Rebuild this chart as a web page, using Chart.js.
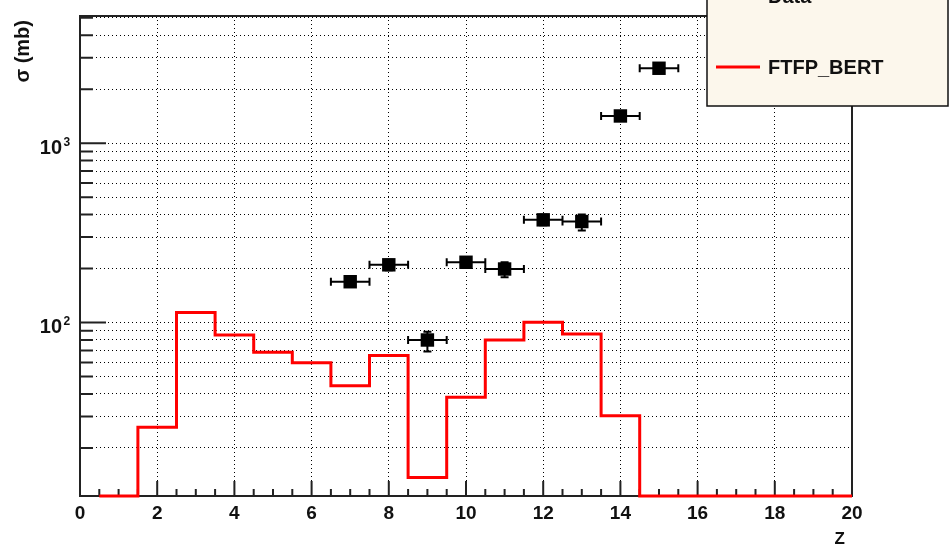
<!DOCTYPE html>
<html>
<head>
<meta charset="utf-8">
<script src="https://cdn.jsdelivr.net/npm/chart.js@4.4.1/dist/chart.umd.min.js"></script>
<style>
  html, body { margin: 0; padding: 0; background: #fff; }
  canvas { display: block; }
</style>
</head>
<body>
<canvas id="chart" width="951" height="556"></canvas>
<script>
// ── measured points (Z, sigma in mb) ──
const dataZ = [7, 8, 9, 10, 11, 12, 13, 14, 15];
const dataSigma = [169, 210, 80, 217, 199, 374, 366, 1419, 2618];
const dataErrLo = [10, 14, 11, 15, 20, 25, 40, 80, 150];
const dataErrHi = [10, 14, 9, 15, 18, 25, 35, 80, 150];
const dataErrZ = [0.5, 0.5, 0.5, 0.5, 0.5, 0.5, 0.5, 0.5, 0.5];

// ── FTFP_BERT histogram, bins of width 1 starting at 0.5 ──
const binLow = [0.5, 1.5, 2.5, 3.5, 4.5, 5.5, 6.5, 7.5, 8.5, 9.5,
                10.5, 11.5, 12.5, 13.5, 14.5, 15.5, 16.5, 17.5, 18.5, 19.5];
const ftfpBert = [0, 26.1, 114, 85.4, 68.4, 59.8, 44.5, 65.5, 13.7, 38.4,
                  80, 100.5, 86.5, 30.3, 0, 0, 0, 0, 0, 0];

// ── axes ──
const xTickVals = [0, 2, 4, 6, 8, 10, 12, 14, 16, 18, 20];
const xTickLabels = ['0', '2', '4', '6', '8', '10', '12', '14', '16', '18', '20'];
const yGridVals = [20, 30, 40, 50, 60, 70, 80, 90, 100, 200, 300, 400, 500, 600, 700, 800, 900, 1000, 2000, 3000, 4000, 5000];
const yLabelVals = [100, 1000];
const yLabelExp = ['2', '3'];
const Y_MIN = 10.8, Y_MAX = 5120;

const FONT = '"Liberation Sans", Arial, Helvetica, sans-serif';

// empty bins sit on the frame bottom, like ROOT does on a log axis
const histPoints = binLow.map((x, i) => ({ x, y: Math.max(ftfpBert[i], Y_MIN) }));
histPoints.push({ x: 20, y: Math.max(ftfpBert[ftfpBert.length - 1], Y_MIN) });

const dataPoints = dataZ.map((z, i) => ({ x: z, y: dataSigma[i] }));

const frameTicks = {
  id: 'frameTicks',
  beforeDatasetsDraw(chart) {
    const { ctx, chartArea: a, scales: { x, y } } = chart;
    ctx.save();
    ctx.strokeStyle = '#222';
    ctx.lineWidth = 2;
    ctx.strokeRect(a.left, a.top, a.right - a.left, a.bottom - a.top);
    ctx.beginPath();
    for (let v = 0; v <= 20; v += 0.5) {
      const px = x.getPixelForValue(v);
      const len = v % 2 === 0 ? 15 : 7;
      ctx.moveTo(px, a.bottom);
      ctx.lineTo(px, a.bottom - len);
    }
    yGridVals.forEach(v => {
      const py = y.getPixelForValue(v);
      const len = yLabelVals.includes(v) ? 26 : 13;
      ctx.moveTo(a.left, py);
      ctx.lineTo(a.left + len, py);
    });
    ctx.stroke();

    // y labels as 10^n, ROOT style
    ctx.fillStyle = '#111';
    ctx.textBaseline = 'alphabetic';
    yLabelVals.forEach((v, i) => {
      const py = y.getPixelForValue(v);
      ctx.font = 'bold 20px ' + FONT;
      ctx.textAlign = 'right';
      ctx.fillText('10', 62, py + 10.5);
      ctx.font = 'bold 12px ' + FONT;
      ctx.textAlign = 'left';
      ctx.fillText(yLabelExp[i], 63.5, py + 2.5);
    });
    ctx.restore();
  }
};

const errorBars = {
  id: 'errorBars',
  beforeDatasetsDraw(chart) {
    const { ctx, scales: { x, y } } = chart;
    ctx.save();
    ctx.strokeStyle = '#000';
    ctx.lineWidth = 2;
    ctx.beginPath();
    dataZ.forEach((z, i) => {
      const px = x.getPixelForValue(z);
      const py = y.getPixelForValue(dataSigma[i]);
      const x0 = x.getPixelForValue(z - dataErrZ[i]);
      const x1 = x.getPixelForValue(z + dataErrZ[i]);
      const y0 = y.getPixelForValue(dataSigma[i] - dataErrLo[i]);
      const y1 = y.getPixelForValue(dataSigma[i] + dataErrHi[i]);
      ctx.moveTo(x0, py); ctx.lineTo(x1, py);
      ctx.moveTo(x0, py - 4); ctx.lineTo(x0, py + 4);
      ctx.moveTo(x1, py - 4); ctx.lineTo(x1, py + 4);
      ctx.moveTo(px, y0); ctx.lineTo(px, y1);
      ctx.moveTo(px - 4, y0); ctx.lineTo(px + 4, y0);
      ctx.moveTo(px - 4, y1); ctx.lineTo(px + 4, y1);
    });
    ctx.stroke();
    ctx.restore();
  }
};

const legendAndTitles = {
  id: 'legendAndTitles',
  afterDraw(chart) {
    const { ctx } = chart;
    ctx.save();
    // axis titles
    ctx.fillStyle = '#111';
    ctx.font = 'bold 20px ' + FONT;
    ctx.textBaseline = 'alphabetic';
    ctx.save();
    ctx.translate(29, 20);
    ctx.rotate(-Math.PI / 2);
    ctx.textAlign = 'right';
    ctx.fillText('\u03c3 (mb)', 0, 0);
    ctx.restore();
    ctx.textAlign = 'right';
    ctx.font = 'bold 17px ' + FONT;
    ctx.fillText('Z', 845, 544);

    // legend box
    ctx.fillStyle = '#fcf7ec';
    ctx.fillRect(707, -40, 241, 146);
    ctx.strokeStyle = '#111';
    ctx.lineWidth = 1.5;
    ctx.strokeRect(707, -40, 241, 146);

    ctx.fillStyle = '#000';
    ctx.fillRect(732, -13, 12, 13);

    ctx.strokeStyle = '#ff0000';
    ctx.lineWidth = 3;
    ctx.beginPath();
    ctx.moveTo(716, 67);
    ctx.lineTo(760, 67);
    ctx.stroke();

    ctx.fillStyle = '#111';
    ctx.textAlign = 'left';
    ctx.font = 'bold 20px ' + FONT;
    ctx.fillText('Data', 768, 2.5);
    ctx.fillText('FTFP_BERT', 768, 74);
    ctx.restore();
  }
};

new Chart(document.getElementById('chart'), {
  type: 'scatter',
  data: {
    datasets: [
      {
        type: 'line',
        label: 'FTFP_BERT',
        data: histPoints,
        stepped: true,
        borderColor: '#ff0000',
        borderWidth: 3,
        pointRadius: 0,
        fill: false,
        clip: 3,
      },
      {
        type: 'scatter',
        label: 'Data',
        data: dataPoints,
        pointStyle: 'rect',
        pointRadius: 9.5,
        backgroundColor: '#000',
        borderColor: '#000',
        borderWidth: 0,
      },
    ],
  },
  options: {
    responsive: false,
    animation: false,
    layout: { autoPadding: false, padding: { top: 16, right: 99, left: 0, bottom: 0 } },
    plugins: { legend: { display: false }, tooltip: { enabled: false } },
    scales: {
      x: {
        type: 'linear',
        min: 0,
        max: 20,
        afterBuildTicks: s => { s.ticks = xTickVals.map(v => ({ value: v })); },
        afterFit: s => { s.height = 60; },
        ticks: {
          autoSkip: false,
          maxRotation: 0,
          padding: 6,
          color: '#111',
          font: { family: FONT, size: 19, weight: 'bold' },
          callback: (v) => xTickLabels[xTickVals.indexOf(v)] ?? '',
        },
        grid: { color: '#000', lineWidth: 1, drawTicks: false },
        border: { display: false, dash: [1, 3] },
      },
      y: {
        type: 'logarithmic',
        min: Y_MIN,
        max: Y_MAX,
        bounds: 'data',
        afterBuildTicks: s => { s.ticks = yGridVals.map(v => ({ value: v })); },
        afterFit: s => { s.width = 80; },
        ticks: { display: false },
        grid: { color: '#000', lineWidth: 1, drawTicks: false },
        border: { display: false, dash: [1, 3] },
      },
    },
  },
  plugins: [frameTicks, errorBars, legendAndTitles],
});
</script>
</body>
</html>
